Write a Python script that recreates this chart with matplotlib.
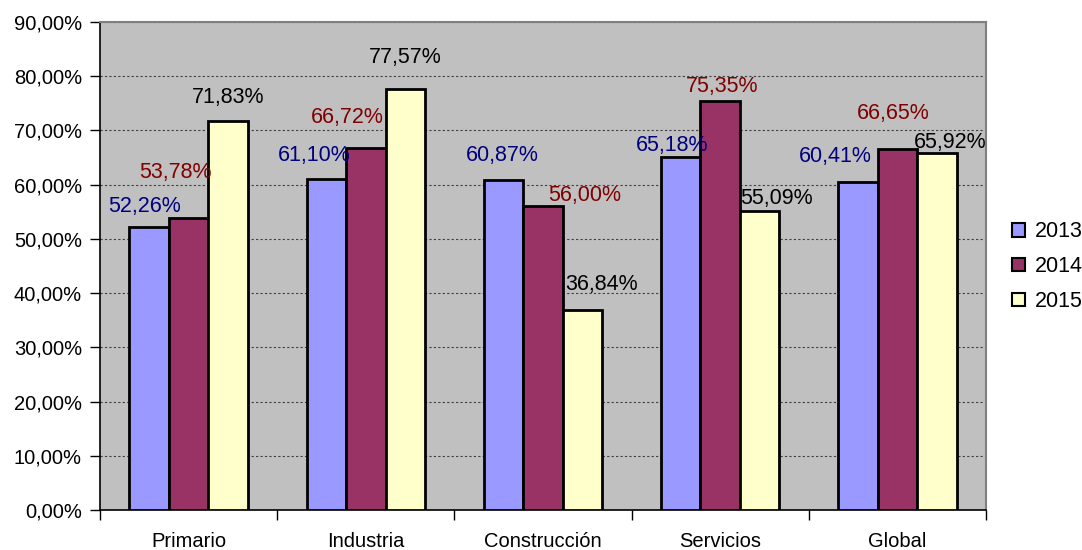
import numpy as np
import matplotlib.pyplot as plt
from matplotlib.patches import Patch

plt.rcParams['font.family'] = ['Liberation Sans', 'DejaVu Sans']

# Data
sectores = ['Primario', 'Industria', 'Construcción', 'Servicios', 'Global']
anios = ['2013', '2014', '2015']
v2013 = [52.26, 61.10, 60.87, 65.18, 60.41]
v2014 = [53.78, 66.72, 56.00, 75.35, 66.65]
v2015 = [71.83, 77.57, 36.84, 55.09, 65.92]

colores = ['#9999FF', '#993366', '#FFFFCC']
colores_txt = ['#000080', '#800000', '#000000']

# hand-placed label offsets (pixels) as in the original sheet
dx = [[-5, -12, -1, -9, -23],
      [-13, -18, 42, 2, -4],
      [0, 0, 19, 17, 13]]
dy = [[20, 23, 24, 11, 26],
      [46, 31, 11, 15, 35],
      [23, 32, 26, 13, 10]]

def fmt(v):
    return f'{v:.2f}'.replace('.', ',') + '%'

fig = plt.figure(figsize=(10.82, 5.5), dpi=100)
ax = fig.add_axes([0.0924, 0.0727, 0.8189, 0.8873])
ax.set_facecolor('#C0C0C0')

x = np.arange(len(sectores))
w = 0.223
series = [v2013, v2014, v2015]
for j, vals in enumerate(series):
    pos = x + (j - 1) * w
    ax.bar(pos, vals, width=w, color=colores[j], edgecolor='black',
           linewidth=2, zorder=3)
    for i, v in enumerate(vals):
        ax.annotate(fmt(v), (pos[i], v), xytext=(dx[j][i], dy[j][i]),
                    textcoords='offset pixels', ha='center', va='center',
                    fontsize=15.5, color=colores_txt[j], zorder=4)

ax.set_xlim(-0.5, 4.5)
ax.set_ylim(0, 90)
ax.set_yticks(np.arange(0, 91, 10))
ax.set_yticklabels([f'{t},00%' for t in range(0, 91, 10)], fontsize=14.5)
ax.yaxis.grid(True, color='#404040', linestyle=(0, (2, 2)), linewidth=0.8, zorder=1)

ax.set_xticks(np.arange(-0.5, 5, 1))
ax.set_xticklabels([])
ax.set_xticks(x, minor=True)
ax.set_xticklabels(sectores, minor=True, fontsize=14.5)
ax.tick_params(axis='x', which='minor', length=0, pad=16)
ax.tick_params(axis='x', which='major', length=7, width=1)
ax.tick_params(axis='y', length=7, width=1, pad=6)

for s in ['top', 'right']:
    ax.spines[s].set_color('#808080')
    ax.spines[s].set_linewidth(1.5)
ax.spines['left'].set_linewidth(1.2)
ax.spines['bottom'].set_linewidth(1.2)

handles = [Patch(facecolor=c, edgecolor='black', linewidth=1.5) for c in colores]
fig.legend(handles, anios, loc='center left', bbox_to_anchor=(0.927, 0.515),
           frameon=False, fontsize=15.5, handlelength=0.6, handleheight=0.6,
           handletextpad=0.5, labelspacing=0.65, borderaxespad=0)

fig.savefig('out.png', dpi=100)
